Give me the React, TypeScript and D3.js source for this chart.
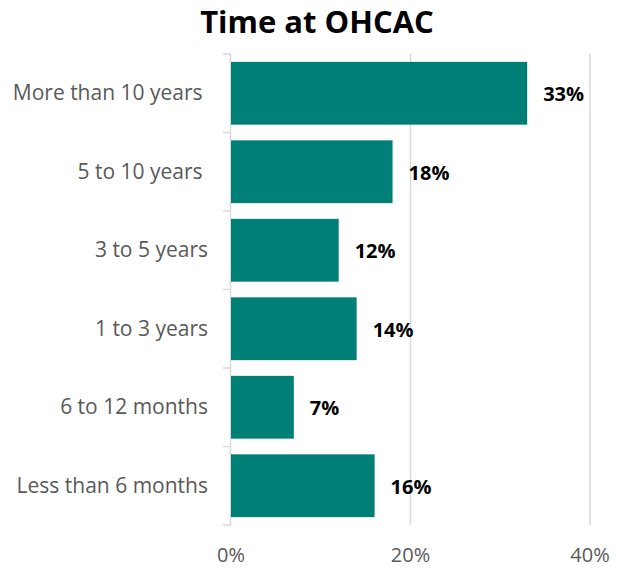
import React, { useEffect, useRef } from "react";
import * as d3 from "d3";

const categories = [
  "More than 10 years ",
  "5 to 10 years ",
  "3 to 5 years",
  "1 to 3 years",
  "6 to 12 months",
  "Less than 6 months",
];
const values = [33, 18, 12, 14, 7, 16];
const xTicks = [0, 20, 40];

const App: React.FC = () => {
  const svgRef = useRef<SVGSVGElement | null>(null);

  useEffect(() => {
    const width = 619;
    const height = 571;
    const margin = { top: 54, right: 29, bottom: 46, left: 231 };

    const svg = d3.select(svgRef.current).attr("width", width).attr("height", height);
    svg.selectAll("*").remove();

    const font = "'Open Sans', sans-serif";

    const x = d3
      .scaleLinear()
      .domain([0, 40])
      .range([margin.left, width - margin.right]);

    const y = d3
      .scaleBand()
      .domain(categories)
      .range([margin.top, height - margin.bottom])
      .paddingInner(0.2)
      .paddingOuter(0.1);

    // Title
    svg
      .append("text")
      .attr("x", 317)
      .attr("y", 33)
      .attr("text-anchor", "middle")
      .style("font-family", font)
      .style("font-weight", "bold")
      .style("font-size", "31px")
      .style("fill", "#000")
      .text("Time at OHCAC");

    // Gridlines
    svg
      .append("g")
      .selectAll("line")
      .data(xTicks.slice(1))
      .join("line")
      .attr("x1", (d) => x(d))
      .attr("x2", (d) => x(d))
      .attr("y1", margin.top)
      .attr("y2", height - margin.bottom)
      .attr("stroke", "#d9d9d9")
      .attr("stroke-width", 1.5);

    // Y axis line + ticks at band boundaries
    const step = y.step();
    const boundaries = d3.range(categories.length + 1).map((i) => margin.top + i * step);
    svg
      .append("line")
      .attr("x1", margin.left - 0.5)
      .attr("x2", margin.left - 0.5)
      .attr("y1", margin.top)
      .attr("y2", height - margin.bottom)
      .attr("stroke", "#d9d9d9")
      .attr("stroke-width", 1.5);
    svg
      .append("g")
      .selectAll("line")
      .data(boundaries)
      .join("line")
      .attr("x1", margin.left - 8)
      .attr("x2", margin.left)
      .attr("y1", (d) => d)
      .attr("y2", (d) => d)
      .attr("stroke", "#d9d9d9")
      .attr("stroke-width", 1.5);

    // Bars
    svg
      .append("g")
      .selectAll("rect")
      .data(values)
      .join("rect")
      .attr("x", x(0))
      .attr("y", (_, i) => y(categories[i])!)
      .attr("width", (d) => x(d) - x(0))
      .attr("height", y.bandwidth())
      .attr("fill", "#007F77");

    // Value labels
    svg
      .append("g")
      .selectAll("text")
      .data(values)
      .join("text")
      .attr("x", (d) => x(d) + 16)
      .attr("y", (_, i) => y(categories[i])! + y.bandwidth() / 2 + 8)
      .style("font-family", font)
      .style("font-weight", "bold")
      .style("font-size", "20px")
      .style("fill", "#000")
      .text((d) => `${d}%`);

    // Category labels
    svg
      .append("g")
      .selectAll("text")
      .data(categories)
      .join("text")
      .attr("x", margin.left - 23)
      .attr("y", (d) => y(d)! + y.bandwidth() / 2 + 7)
      .attr("text-anchor", "end")
      .style("font-family", font)
      .style("font-size", "21px")
      .style("fill", "#595959")
      .style("white-space", "pre")
      .text((d) => d);

    // X tick labels
    svg
      .append("g")
      .selectAll("text")
      .data(xTicks)
      .join("text")
      .attr("x", (d) => x(d))
      .attr("y", 562)
      .attr("text-anchor", "middle")
      .style("font-family", font)
      .style("font-size", "20px")
      .style("fill", "#595959")
      .text((d) => `${d}%`);
  }, []);

  return (
    <div style={{ margin: -8 }}>
      <svg ref={svgRef}></svg>
    </div>
  );
};

export default App;
